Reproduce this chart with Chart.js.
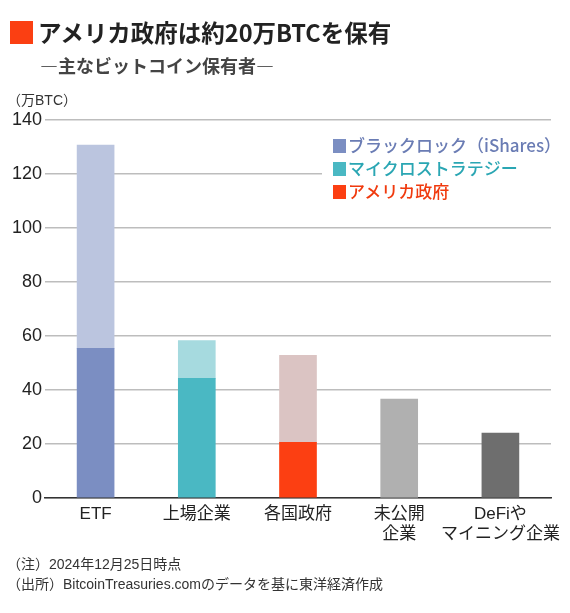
<!DOCTYPE html>
<html><head><meta charset="utf-8">
<script src="https://cdn.jsdelivr.net/npm/chart.js@4.4.1/dist/chart.umd.min.js"></script>
<style>
html,body{margin:0;padding:0;background:#fff;}
#wrap{position:relative;width:570px;height:613px;overflow:hidden;font-family:"Liberation Sans","Noto Sans CJK JP",sans-serif;color:#222;}
#c{position:absolute;left:0;top:0;}
.abs{position:absolute;white-space:nowrap;}
#sq{left:10px;top:21px;width:23px;height:23px;background:#fb3f12;}
#title{left:38px;top:16px;font-size:23.5px;font-weight:bold;font-family:"Noto Sans CJK JP",sans-serif;color:#222;line-height:32px;}
#sub{left:40px;top:53px;font-size:18px;font-weight:bold;font-family:"Noto Sans CJK JP",sans-serif;color:#444;line-height:24px;}
#unit{left:7px;top:91px;font-size:14px;color:#333;line-height:18px;}
#legend{left:322px;top:130px;width:245px;height:72px;background:#fff;}
.li{position:absolute;left:11px;font-size:17px;font-weight:500;font-family:"Noto Sans CJK JP",sans-serif;line-height:22px;}
.li span{display:inline-block;width:13px;height:14px;margin-right:2px;vertical-align:-1px;}
#notes{left:7px;top:554px;font-size:14px;line-height:20px;color:#333;}
</style></head>
<body><div id="wrap">
<canvas id="c" width="570" height="613"></canvas>
<div class="abs" id="sq"></div>
<div class="abs" id="title">アメリカ政府は約20万BTCを保有</div>
<div class="abs" id="sub">―主なビットコイン保有者―</div>
<div class="abs" id="unit">（万BTC）</div>
<div class="abs" id="legend"></div>
<div class="abs" id="notes">（注）2024年12月25日時点<br>（出所）BitcoinTreasuries.comのデータを基に東洋経済作成</div>
</div>
<script>
// categories
const categories = [["ETF"], ["上場企業"], ["各国政府"], ["未公開", "企業"], ["DeFiや", "マイニング企業"]];
// highlighted holders (万BTC)
const highlightNames = ["ブラックロック（iShares）", "マイクロストラテジー", "アメリカ政府"];
const highlighted = [55.4, 44.3, 20.6, 0, 0];
// remainder of each category stacked above the highlighted part (万BTC)
const remainder = [75.3, 14.0, 32.2, 36.6, 24.0];
// y ticks
const yTicks = [0, 20, 40, 60, 80, 100, 120, 140];

const darkColors = ["#7b8ec2", "#4ab8c3", "#fc3f12", "#b0b0b0", "#6e6e6e"];
const lightColors = ["#bbc5df", "#a6dadf", "#dbc4c3", "#b0b0b0", "#6e6e6e"];
const legendTextColors = ["#6a7cb4", "#2aa6b3", "#f03a0e"];

// legend (HTML)
const lg = document.getElementById('legend');
highlightNames.forEach((n, i) => {
  const d = document.createElement('div');
  d.className = 'li';
  d.style.top = (4 + i * 23) + 'px';
  d.style.color = legendTextColors[i];
  d.innerHTML = '<span style="background:' + darkColors[i] + '"></span>' + n;
  lg.appendChild(d);
});

new Chart(document.getElementById('c'), {
  type: 'bar',
  data: {
    labels: categories,
    datasets: [
      { label: '主要保有者', data: highlighted, backgroundColor: darkColors, barThickness: 37, borderWidth: 0 },
      { label: 'その他', data: remainder, backgroundColor: lightColors, barThickness: 37, borderWidth: 0 }
    ]
  },
  options: {
    responsive: false,
    animation: false,
    devicePixelRatio: 1,
    layout: { padding: { top: 120, right: 19, left: 0, bottom: 0 } },
    plugins: { legend: { display: false }, tooltip: { enabled: false } },
    scales: {
      x: {
        stacked: true,
        grid: { display: false, drawTicks: false },
        border: { display: true, color: '#333', width: 1.5 },
        ticks: {
          color: '#222', padding: 6, maxRotation: 0, minRotation: 0, autoSkip: false,
          font: { size: 17, family: '"Liberation Sans","Noto Sans CJK JP",sans-serif', lineHeight: 1.2 }
        },
        afterFit: s => { s.height = 115; }
      },
      y: {
        stacked: true,
        min: 0, max: 140,
        afterBuildTicks: s => { s.ticks = yTicks.map(v => ({ value: v })); },
        grid: { color: '#bdbdbd', lineWidth: 1.5, drawTicks: false },
        border: { display: false },
        ticks: {
          color: '#222', padding: 3,
          font: { size: 18, family: '"Liberation Sans",sans-serif' }
        },
        afterFit: s => { s.width = 45; }
      }
    }
  }
});
</script>
</body></html>
